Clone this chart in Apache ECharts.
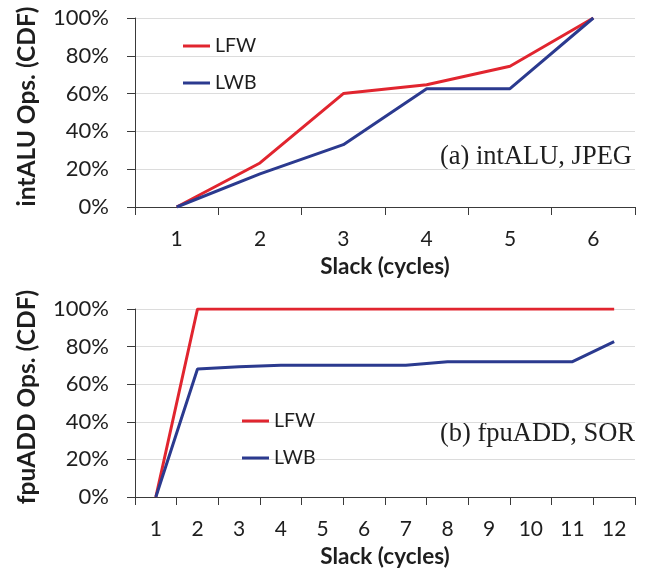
<!DOCTYPE html>
<html>
<head>
<meta charset="utf-8">
<script src="https://cdn.jsdelivr.net/npm/echarts@6/dist/echarts.min.js"></script>
<style>
html,body{margin:0;padding:0;background:#fff;}
#chart{width:646px;height:570px;}
</style>
</head>
<body>
<div id="chart"></div>
<script>
// Panel (a): intALU, JPEG
const catsA = ['1','2','3','4','5','6'];
const lfwA = [0, 23.3, 60, 64.7, 74.5, 100];
const lwbA = [0, 17.5, 33, 62.6, 62.6, 100];
// Panel (b): fpuADD, SOR
const catsB = ['1','2','3','4','5','6','7','8','9','10','11','12'];
const lfwB = [0, 100, 100, 100, 100, 100, 100, 100, 100, 100, 100, 100];
const lwbB = [0, 68.1, 69.3, 70.1, 70.1, 70.1, 70.1, 72, 72, 72, 72, 82.6];
const yTicks = [0, 20, 40, 60, 80, 100];
const seriesNames = ['LFW', 'LWB'];
const labelA = '(a) intALU, JPEG';
const labelB = '(b) fpuADD, SOR';
const yNameA = 'intALU Ops. (CDF)';
const yNameB = 'fpuADD Ops. (CDF)';
const xName = 'Slack (cycles)';

const RED = '#E1252F';
const BLUE = '#2B3A8F';
const AXIS = '#3a3a3a';
const TXT = '#1e1e1e';
const FONT = 'Lato';

function xAxis(cats, gridIndex) {
  return {
    type: 'category', gridIndex, data: cats, boundaryGap: true,
    axisLine: {lineStyle: {color: AXIS, width: 1}},
    axisTick: {show: true, length: 8, lineStyle: {color: AXIS}},
    axisLabel: {color: TXT, fontFamily: FONT, fontSize: 21, margin: 22},
    name: xName, nameLocation: 'middle', nameGap: 48,
    nameTextStyle: {color: TXT, fontFamily: FONT, fontWeight: 'bold', fontSize: 22.5}
  };
}
function yAxis(name, gridIndex) {
  return {
    type: 'value', gridIndex, min: yTicks[0], max: yTicks[yTicks.length - 1], interval: 20,
    axisLine: {show: true, lineStyle: {color: AXIS, width: 1}},
    axisTick: {show: true, length: 8, lineStyle: {color: AXIS}},
    axisLabel: {color: TXT, fontFamily: FONT, fontSize: 22, margin: 26, formatter: '{value}%', padding: [7, 0, 0, 0]},
    splitLine: {show: true, lineStyle: {color: '#dcdcdc', width: 1}},
    name, nameLocation: 'middle', nameGap: 95, nameRotate: 90,
    nameTextStyle: {color: TXT, fontFamily: FONT, fontWeight: 'bold', fontSize: 24.5, padding: [0, 0, 0, 12]}
  };
}
function line(name, data, color, idx) {
  return {
    type: 'line', name, data, xAxisIndex: idx, yAxisIndex: idx,
    showSymbol: false, symbol: 'none', smooth: false,
    lineStyle: {color, width: 3}, itemStyle: {color},
    animation: false
  };
}
function legend(top, left) {
  return {
    orient: 'vertical', top, left, data: seriesNames,
    icon: 'rect', itemWidth: 27, itemHeight: 3, itemGap: 17,
    textStyle: {color: TXT, fontFamily: FONT, fontSize: 19.5, lineHeight: 20},
    selectedMode: false
  };
}

const chart = echarts.init(document.getElementById('chart'), null, {renderer: 'canvas'});
chart.setOption({
  backgroundColor: '#ffffff',
  animation: false,
  grid: [
    {left: 135, width: 500, top: 18, height: 189},
    {left: 135, width: 500, top: 309, height: 188}
  ],
  xAxis: [xAxis(catsA, 0), xAxis(catsB, 1)],
  yAxis: [yAxis(yNameA, 0), yAxis(yNameB, 1)],
  legend: [legend(31, 178), legend(406, 237)],
  series: [
    line(seriesNames[0], lfwA, RED, 0),
    line(seriesNames[1], lwbA, BLUE, 0),
    line(seriesNames[0], lfwB, RED, 1),
    line(seriesNames[1], lwbB, BLUE, 1)
  ],
  graphic: [
    {type: 'text', right: 14, top: 144, style: {text: labelA, fill: TXT, font: '26.5px "Liberation Serif"'}},
    {type: 'text', right: 11, top: 421, style: {text: labelB, fill: TXT, font: '26.5px "Liberation Serif"'}}
  ]
});
</script>
</body>
</html>
